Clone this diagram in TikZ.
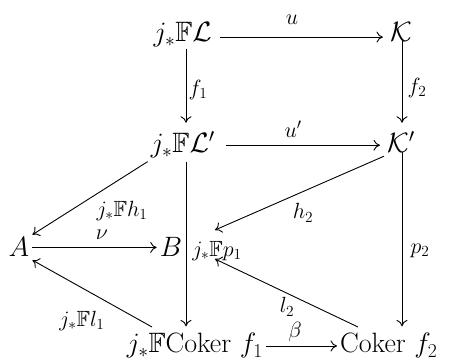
\RequirePackage{fix-cm}
\documentclass[tikz,border=0pt]{standalone}
\usepackage{amssymb}
\usetikzlibrary{arrows.meta}
\begin{document}
\begin{tikzpicture}[x=1pt,y=-1pt,
  obj/.style={inner sep=3pt, font=\fontsize{28}{33}\selectfont},
  lab/.style={inner sep=0pt, font=\fontsize{22}{26}\selectfont},
  arr/.style={line width=0.9pt, -{To[length=6.5pt,width=11pt]}}]
\useasboundingbox (0,0) rectangle (458,363);
% objects
\node[obj, anchor=base east] (jl) at (215,42) {$j_*\mathbb{F}\mathcal{L}$};
\node[obj, anchor=base] (k) at (401,42) {$\mathcal{K}$};
\node[obj, anchor=base east] (jl2) at (218,153) {$j_*\mathbb{F}\mathcal{L}'$};
\node[obj, anchor=base] (k2) at (401,153) {$\mathcal{K}'$};
\node[obj, anchor=base] (a) at (19,257) {$A$};
\node[obj, anchor=base] (b) at (171,257) {$B$};
\node[obj, anchor=base east] (c1) at (266,353) {$j_*\mathbb{F}\mathrm{Coker}\ f_1$};
\node[obj, anchor=base west] (c2) at (337,353) {$\mathrm{Coker}\ f_2$};
% helper coordinates
\coordinate (vx) at (186,0);
\coordinate (vk) at (402,0);
\coordinate (h2end) at (215,230);
\coordinate (l2start) at (358,327);
\coordinate (l2end) at (215,259);
\coordinate (l1start) at (152,327);
% labels
\node[lab] (lu) at (292,20) {$u$};
\node[lab] (lf1) at (198,90) {$f_1$};
\node[lab] (lf2) at (417,88) {$f_2$};
\node[lab] (lu2) at (293,129) {$u'$};
\node[lab] (lh1) at (122,211) {$j_*\mathbb{F}h_1$};
\node[lab] (lnu) at (102,235) {$\nu$};
\node[lab] (lh2) at (303,213) {$h_2$};
\node[lab] (lp1) at (217,251) {$j_*\mathbb{F}p_1$};
\node[lab] (lp2) at (420,251) {$p_2$};
\node[lab] (ll1) at (82,321) {$j_*\mathbb{F}l_1$};
\node[lab] (ll2) at (287,307) {$l_2$};
\node[lab] (lbeta) at (295,332) {$\beta$};
% arrows
\draw[arr, shorten <=5pt, shorten >=4pt] ([yshift=-2pt]jl.east) -- ([yshift=-2pt]jl.east -| k.west);
\draw[arr] ([yshift=2pt]jl.south -| vx) -- ([yshift=6pt]jl2.north -| vx);
\draw[arr] ([yshift=4pt]k.south -| vk) -- ([yshift=6pt]k2.north -| vk);
\draw[arr, shorten <=8pt, shorten >=4pt] (jl2.east) -- (jl2.east -| k2.west);
\draw[arr] (jl2.south west) -- (a.north east);
\draw[arr] (k2.south west) -- (h2end);
\draw[arr] (a.east) -- (a.east -| b.west);
\draw[arr] (jl2.south -| vx) -- ([yshift=4pt]c1.north -| vx);
\draw[arr] ([yshift=4pt]k2.south -| vk) -- ([yshift=4pt]c2.north -| vk);
\draw[arr] (l1start) -- (a.south east);
\draw[arr] (l2start) -- (l2end);
\draw[arr] (c1.east) -- (c1.east -| c2.west);
\end{tikzpicture}
\end{document}
